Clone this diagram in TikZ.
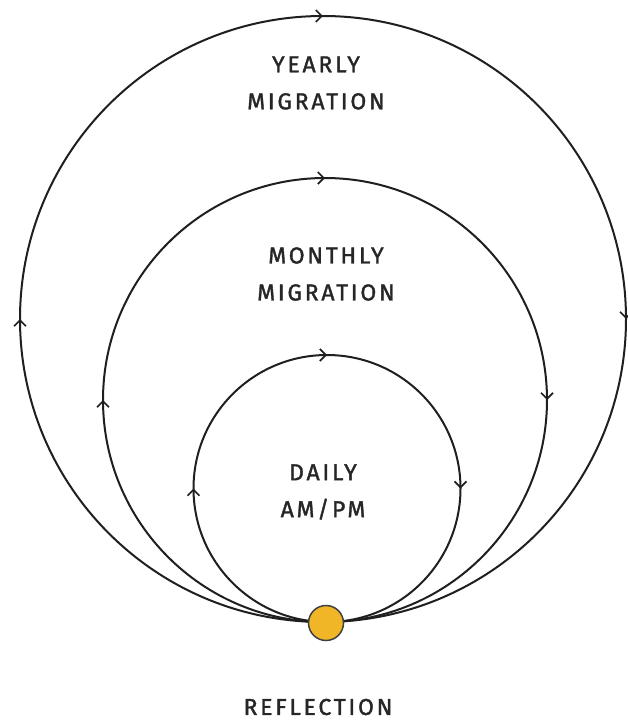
\documentclass[tikz,border=0pt]{standalone}
\usepackage{fontspec}
\setmainfont{Fira Sans}[LetterSpace=12,FakeBold=1.5]
\usetikzlibrary{decorations.markings,arrows.meta,calc}
\begin{document}
\begin{tikzpicture}[x=1pt,y=-1pt,
  loop/.style={line width=2pt,draw=black!88,
    decoration={markings,
      mark=at position 0.25 with {\arrow{Straight Barb[length=6pt,width=12pt,line width=1.7pt]}},
      mark=at position 0.5 with {\arrow{Straight Barb[length=6pt,width=12pt,line width=1.7pt]}},
      mark=at position 0.75 with {\arrow{Straight Barb[length=6pt,width=12pt,line width=1.7pt]}}},
    postaction={decorate}},
  lbl/.style={font=\fontsize{23}{37}\selectfont, align=center, text=black!85}]
\useasboundingbox (0,0) rectangle (628,721);
\coordinate (c1) at (323,319);
\coordinate (c2) at (325,400);
\coordinate (c3) at (327,488.5);
\draw[loop] ($(c1)+(0,303)$) arc[start angle=90,end angle=450,radius=303];
\draw[loop] ($(c2)+(0,222)$) arc[start angle=90,end angle=450,radius=222];
\draw[loop] ($(c3)+(0,133.5)$) arc[start angle=90,end angle=450,radius=133.5];
\node[circle,fill={rgb,255:red,240;green,182;blue,40},draw=black!75,line width=1.5pt,minimum size=35pt,inner sep=0pt] (dot) at (326,623) {};
\node[lbl] (yearly) at (316,83) {YEARLY\\MIGRATION};
\node[lbl] (monthly) at (326,274) {MONTHLY\\MIGRATION};
\node[lbl] (daily) at (323,492) {DAILY\\AM/PM};
\node[lbl] (refl) at (318,707) {REFLECTION};
\end{tikzpicture}
\end{document}
